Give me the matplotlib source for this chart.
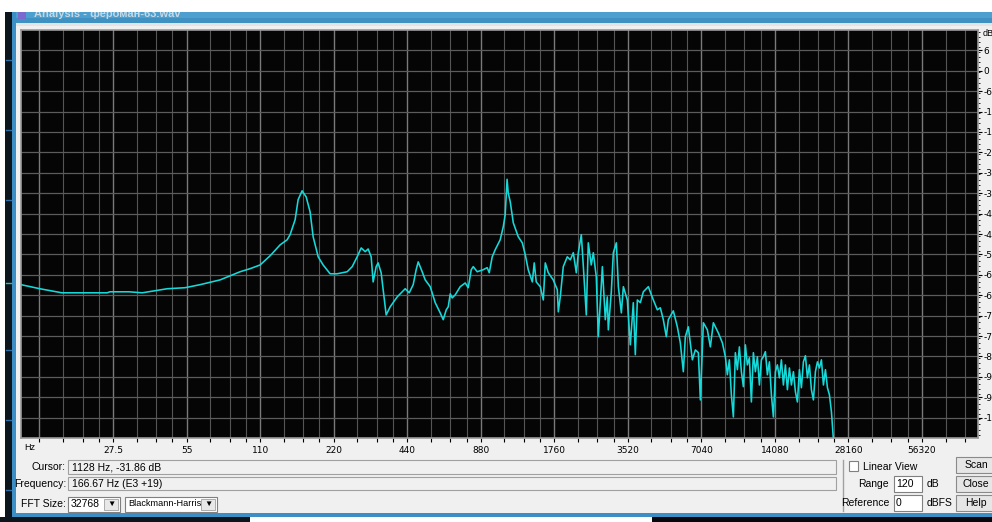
import numpy as np
import matplotlib.pyplot as plt
from matplotlib.patches import Rectangle
from matplotlib.ticker import NullFormatter

# spectrum trace (Hz, dB)
freq_hz = [11.55, 13.8, 17.0, 26.0, 26.7, 32.0, 36.2, 45.8, 54.2, 62.5, 75.4, 91.1,
           100.1, 110, 120.9, 132.8, 141.9, 145.9, 153.0, 157.4, 163.4, 169.8, 176.2,
           181.3, 190.1, 199.2, 212.8, 227.4, 249.9, 262.0, 274.6, 285.2, 296.2, 304.5,
           313.3, 319.2, 328.4, 334.6, 344.2, 350.8, 360.9, 374.9, 400.4, 431.8, 448.5,
           465.6, 478.8, 488.1, 506.8, 521.4, 546.6, 573.0, 600.6, 617.9, 635.8, 647.9,
           660.1, 672.6, 691.8, 725.2, 760.3, 782.2, 804.7, 820.0, 851.3, 900.8, 935.2,
           953.4, 980.7, 1009, 1057, 1088, 1108, 1128, 1140, 1162, 1196, 1253, 1302,
           1339, 1377, 1431, 1457, 1485, 1543, 1587, 1617, 1663, 1743, 1811, 1828, 1862,
           1916, 1990, 2047, 2106, 2166, 2208, 2271, 2315, 2380, 2425, 2494, 2543, 2615,
           2666, 2769, 2847, 2901, 2929, 3013, 3071, 3159, 3220, 3312, 3375, 3503, 3604,
           3707, 3778, 3851, 3961, 4075, 4271, 4477, 4649, 4782, 4919, 5060, 5156, 5405,
           5613, 5774, 5940, 6053, 6226, 6468, 6653, 6844, 6974, 7174, 7450, 7663, 7883,
           8262, 8582,
           8828, 8996, 9167, 9342, 9520, 9701, 9886, 10074, 10266, 10461, 10660, 10863,
           11070, 11281, 11496, 11715, 11938, 12165, 12397, 12633, 12873, 13118, 13368,
           13623, 13882, 14147, 14416, 14690, 14970, 15255, 15546, 15842, 16143, 16451,
           16764, 17083, 17408, 17740, 18078, 18422, 18773, 19130, 19494, 19866, 20244,
           20629, 21022, 21423, 21831, 22246, 22670, 23102, 23542, 23990, 24447, 24912]
level_db = [-62.9, -64.1, -65.3, -65.3, -65.0, -65.0, -65.3, -64.1, -63.8, -62.9, -61.5, -59.1,
            -58.2, -57.1, -54.4, -51.2, -49.7, -48.2, -43.8, -37.9, -35.3, -37.1, -41.5,
            -48.8, -54.7, -57.1, -59.7, -59.7, -59.1, -57.6, -54.7, -52.1, -53.2, -52.4,
            -54.7, -62.1, -57.6, -56.5, -59.4, -64.4, -71.8, -69.4, -66.5, -64.1, -65.3,
            -62.9, -58.5, -56.2, -59.1, -61.5, -63.5, -68.2, -71.2, -73.2, -70.3, -69.4,
            -65.6, -66.8, -65.9, -63.5, -62.4, -63.8, -58.5, -57.6, -59.1, -58.5, -57.9,
            -59.4, -54.7, -52.6, -49.7, -45.9, -42.4, -31.9, -35.9, -38.5, -44.7, -48.8, -50.6,
            -54.1, -58.5, -62.1, -56.5, -62.1, -63.5, -67.4, -56.5, -59.4, -61.5, -64.4, -70.9, -66.5,
            -57.6, -54.7, -55.6, -53.5, -59.4, -53.5, -48.2, -57.6, -71.8, -50.6, -57.1, -53.5, -60.6,
            -78.2, -57.6, -73.2, -66.5, -76.2, -65.0, -53.5, -50.6, -63.5, -71.2, -63.5, -67.4, -80.6,
            -68.2, -83.5, -67.4, -68.2, -65.0, -63.5, -67.4, -70.3, -69.7, -73.2, -78.2, -73.2, -70.6,
            -75.3, -80.0, -88.5, -78.2, -75.3, -85.0, -82.1, -82.9, -96.8, -74.1, -76.2, -81.2, -74.1,
            -77.1, -80.0,
            -84.1, -89.4, -85.0, -95.3, -101.8, -82.9, -87.9, -81.2, -88.5, -92.9, -80.6, -86.5,
            -84.4, -97.4, -82.9, -88.5, -84.1, -92.4, -85.0, -84.1, -82.6, -89.4, -85.6,
            -95.3, -101.8, -88.5, -86.5, -90.3, -85.0, -92.4, -86.5, -93.8, -87.4, -92.4,
            -88.5, -94.4, -97.4, -87.9, -93.2, -85.6, -83.8, -90.3, -86.5, -93.8, -96.8,
            -88.5, -85.6, -87.4, -85.0, -92.4, -87.9, -93.2, -95.3, -100.3, -108.5, -114.0]

octave_labels = ["27.5", "55", "110", "220", "440", "880", "1760", "3520",
                 "7040", "14080", "28160", "56320"]
db_labels = ["6", "0", "-6", "-12", "-18", "-24", "-30", "-36", "-42", "-48", "-54",
             "-60", "-66", "-72", "-78", "-84", "-90", "-96", "-102"]

W, H = 992, 522
fig = plt.figure(figsize=(W / 100, H / 100), dpi=100, facecolor="#f0f0f0")

# window chrome in pixel coordinates
bg = fig.add_axes([0, 0, 1, 1])
bg.set_xlim(0, W)
bg.set_ylim(H, 0)
bg.axis("off")


def rect(x0, y0, x1, y1, fc, ec="none", lw=0.0, z=1):
    bg.add_patch(Rectangle((x0, y0), x1 - x0, y1 - y0, facecolor=fc, edgecolor=ec, lw=lw, zorder=z))


def txt(x, y, s, ha="left", size=7.5, color="#000000", z=5, weight="normal"):
    bg.text(x, y, s, ha=ha, va="center", fontsize=size, color=color, zorder=z,
            weight=weight, family=["Liberation Sans", "DejaVu Sans"])


rect(0, 0, W, 12, "#ffffff", z=6)
rect(12, 12, W, 23, "#4c9fcf")
rect(12, 18, W, 23, "#3f91c2")
txt(34, 14, "Analysis - фероман-63.wav", size=8, color="#c4d9e6", z=4, weight="bold")
rect(18, 11, 26, 19, "#7a6ad0", z=4)
rect(0, 0, 5, H, "#ffffff", z=0.5)
rect(5, 12, 12, H, "#0c141c", z=0.5)
for yy in [60, 130, 200, 350, 420, 490]:
    bg.plot([6, 11], [yy, yy], color="#2d6fa8", lw=1, zorder=2)
bg.plot([6, 11], [283, 283], color="#2fc0a8", lw=1, zorder=2)
rect(12, 12, 16, 517, "#3d8ec4")
rect(12, 513, W, 517, "#3d8ec4")
rect(0, 517, 250, H, "#0c141c")
rect(250, 517, 652, H, "#ffffff")
rect(652, 517, W, H, "#06090c")
rect(16, 23, W, 26, "#e4e4e4")

# text fields
rect(68, 460, 836, 474, "#f0f0f0", ec="#a0a0a0", lw=0.8)
rect(68, 477, 836, 490, "#f0f0f0", ec="#a0a0a0", lw=0.8)
txt(66, 467, "Cursor:", ha="right")
txt(72, 467, "1128 Hz, -31.86 dB")
txt(66, 484, "Frequency:", ha="right")
txt(72, 484, "166.67 Hz (E3 +19)")
txt(66, 504, "FFT Size:", ha="right")
rect(68, 497, 120, 512, "#ffffff", ec="#808080", lw=0.8)
txt(71, 504, "32768")
rect(104, 499, 118, 510, "#e8e8e8", ec="#a0a0a0", lw=0.6)
txt(111, 504, "▼", ha="center", size=6)
rect(125, 497, 217, 512, "#ffffff", ec="#808080", lw=0.8)
txt(128, 504, "Blackmann-Harris", size=6.6)
rect(201, 499, 215, 510, "#e8e8e8", ec="#a0a0a0", lw=0.6)
txt(208, 504, "▼", ha="center", size=6)

# right-hand controls
bg.plot([843, 843], [460, 511], color="#a0a0a0", lw=1, zorder=3)
rect(849, 461, 858, 471, "#ffffff", ec="#808080", lw=0.8)
txt(863, 467, "Linear View")
txt(889, 484, "Range", ha="right")
rect(894, 476, 922, 492, "#ffffff", ec="#808080", lw=0.8)
txt(896, 484, "120")
txt(927, 484, "dB")
txt(889, 503, "Reference", ha="right")
rect(894, 495, 922, 511, "#ffffff", ec="#808080", lw=0.8)
txt(896, 503, "0")
txt(927, 503, "dBFS")
for y0, label in [(457, "Scan"), (476, "Close"), (495, "Help")]:
    rect(956, y0, 1000, y0 + 16, "#e6e6e6", ec="#8a8a8a", lw=0.8)
    txt(976, y0 + 8, label, ha="center")

# spectrum plot
ax = fig.add_axes([21 / W, 1 - 438 / H, (978 - 21) / W, (438 - 30) / H])
ax.set_facecolor("#050505")
ax.set_xscale("log", base=2)
ax.set_xlim(11.55, 95500)
ax.set_ylim(-108, 12)

bases = [13.75 * 2 ** k for k in range(13)]
for b in bases:
    for m in [1.0, 1.25, 1.5, 1.75]:
        ax.axvline(b * m, color="#7a7a7a" if m == 1.0 else "#555555", lw=1.0 if m == 1.0 else 0.8, zorder=1)
for d in range(-102, 12, 6):
    ax.axhline(d, color="#5c5c5c", lw=0.9, zorder=1)

ax.plot(freq_hz, level_db, color="#16dada", lw=1.15, zorder=3)

ax.set_xticks(bases[1:13])
ax.set_xticklabels(octave_labels, fontsize=6.5)
ax.set_xticks([b * m for b in bases for m in [1.0, 1.25, 1.5, 1.75]
               if 11.55 < b * m < 95500], minor=True)
ax.xaxis.set_minor_formatter(NullFormatter())
ax.tick_params(axis="x", which="both", direction="out", length=3, width=0.8, pad=3, colors="#000000")
ax.set_yticks(list(range(6, -103, -6)))
ax.set_yticklabels(db_labels, fontsize=6.5)
ax.set_yticks(np.arange(-107, 12, 1.5), minor=True)
ax.yaxis.set_minor_formatter(NullFormatter())
ax.yaxis.tick_right()
ax.tick_params(axis="y", which="major", direction="out", length=3, width=0.8, pad=1)
ax.tick_params(axis="y", which="minor", direction="out", length=1.5, width=0.6)
for s in ax.spines.values():
    s.set_color("#9a9a9a")
    s.set_linewidth(1.2)

txt(24, 447, "Hz", size=6.5)
txt(983, 33, "dB", size=6.5)

fig.savefig("out.png", dpi=100, facecolor=fig.get_facecolor())
